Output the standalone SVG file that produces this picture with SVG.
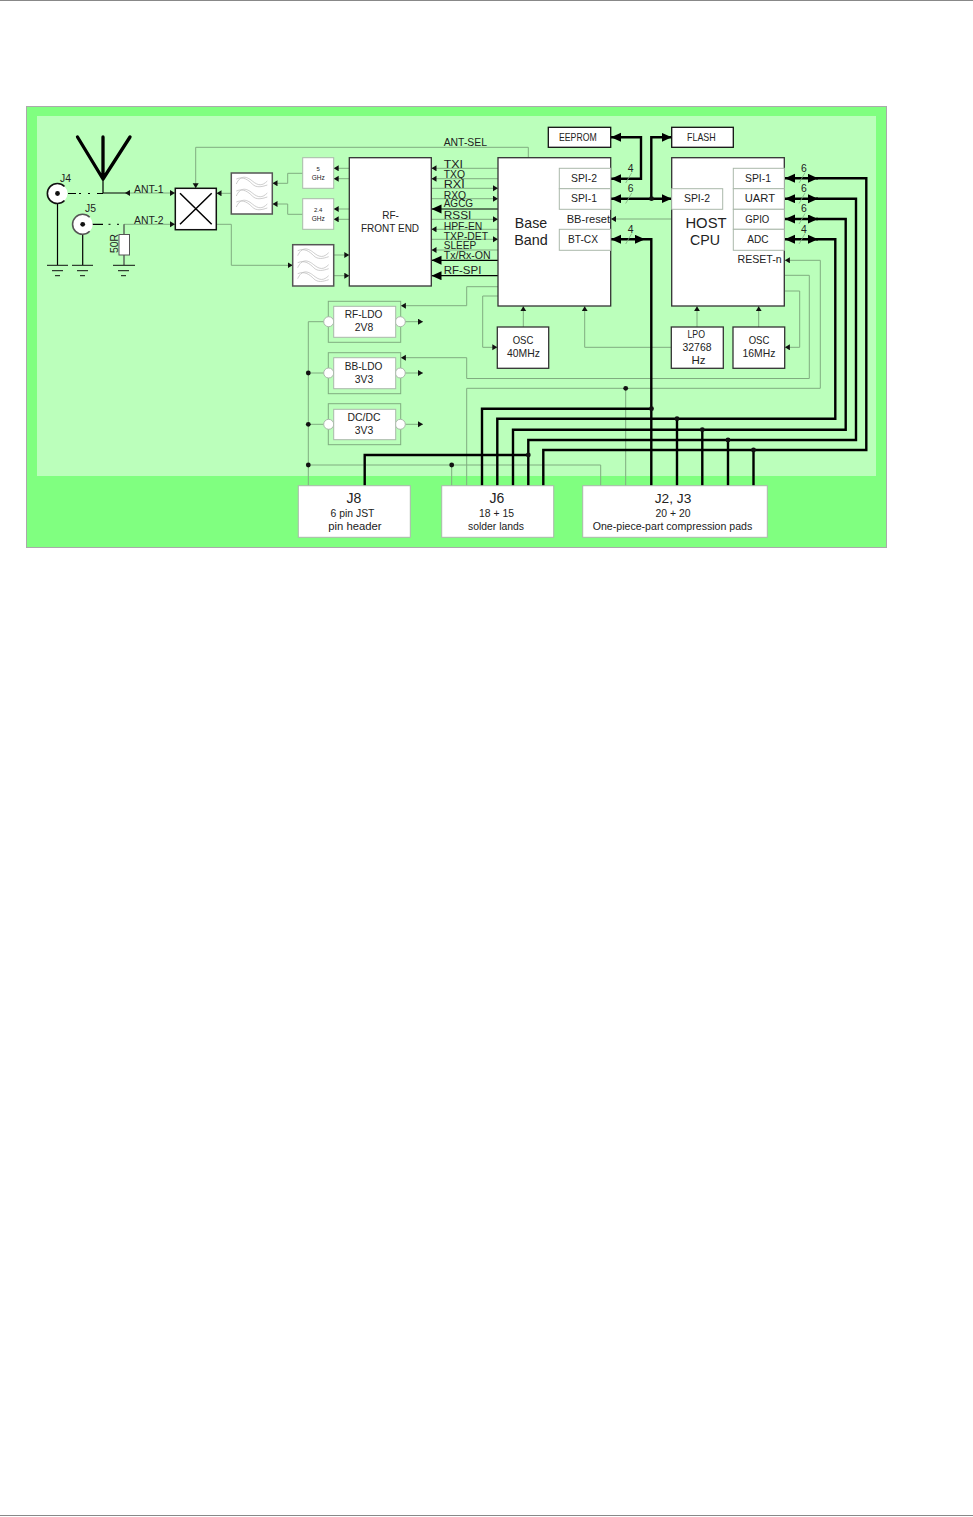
<svg xmlns="http://www.w3.org/2000/svg" width="973" height="1517" viewBox="0 0 973 1517">
<style>
text{font-family:"Liberation Sans",Arial,sans-serif;fill:#222;font-size:10.4px}
.c{text-anchor:middle}
.m{font-size:14px}
.w{fill:#fff;stroke:#333;stroke-width:1.3}
.b{fill:#fff;stroke:#aab8aa;stroke-width:1}
.fb{fill:#fff;stroke:#555;stroke-width:1.5}
.g,.gm{fill:none;stroke:#80ad80;stroke-width:1}
.gm{marker-end:url(#a)}
.k{fill:none;stroke:#000;stroke-width:2.4}
.t{fill:none;stroke:#000;stroke-width:1.2}
.ta{marker-end:url(#A)}
.d{fill:#111}
.wav{fill:none;stroke:#b8b8b8;stroke-width:.7}
.sl{stroke:#80ad80;stroke-width:.8}
</style>
<defs>
<marker id="a" markerUnits="userSpaceOnUse" markerWidth="6" markerHeight="7" refX="5" refY="3" orient="auto-start-reverse"><path d="M0 0L5 3L0 6Z" fill="#111"/></marker>
<marker id="A" markerUnits="userSpaceOnUse" markerWidth="11" markerHeight="10" refX="10" refY="4.5" orient="auto-start-reverse"><path d="M0 0L10 4.5L0 9Z" fill="#000"/></marker>
<g id="wave"><path class="wav" d="M5 11C9 2 15 3 21 8S31 13 36 8M5 6C12 3 17 7 21 11S30 14 36 12"/><path class="wav" d="M5 23C9 14 15 15 21 20S31 25 36 20M5 18C12 15 17 19 21 23S30 26 36 24"/><path class="wav" d="M5 34C9 25 15 26 21 31S31 36 36 31M5 29C12 26 17 30 21 34S30 37 36 35"/></g>
</defs>

<rect width="973" height="1517" fill="#fff"/>
<path d="M0 .5H973M0 1515.5H973" stroke="#888" stroke-width="1"/>
<rect x="26.5" y="106.5" width="860" height="441" fill="#80ff80" stroke="#aaa"/>
<rect x="37" y="116" width="839" height="360" fill="#bbffbb"/>

<g id="connectors">
<path class="gm" d="M528.3 157.5V147.3H195.7V188.3"/>
<path class="gm" d="M231 193.3H216.5"/>
<path class="gm" d="M303 173.3H287.7V183.3H272.5"/>
<path class="gm" d="M303 214.3H287.7V204H272.5"/>
<path class="gm" d="M216 224.3H231.3V265.3H292.7"/>
<path class="gm" d="M333.7 255H349.3"/><path class="gm" d="M333.7 275.7H349.3"/>
<path class="gm" d="M349 168.3H333.7"/><path class="gm" d="M349 178.7H333.7"/>
<path class="gm" d="M349 209H333.7"/><path class="gm" d="M349 219.3H333.7"/>
<path class="gm" d="M127 193H175"/>
<path class="gm" d="M124 224.3H175"/>
<path d="M127 193H103V179" class="t"/>
<path d="M132 193H125" fill="none" marker-end="url(#a)"/>
<path d="M57.5 193.5V265M82.7 224.3V265M82.7 224.3H103" class="t"/>
<path d="M124 224.3V234M124 255V265" stroke="#444" stroke-width="1.2" fill="none"/>
<path d="M68 193.5h8M79 193.5h2M88 193.5h2M97 193.5h6" stroke="#000" stroke-width="1"/>
<path d="M108.5 224.3h2M117 224.3h2" stroke="#000" stroke-width="1"/>
<g fill="none" stroke="#000" stroke-width="3.3" stroke-linecap="round"><path d="M103 137V179M77.5 137L103 179M130 137L103 179"/></g>

<path class="gm" d="M498 168.3H431.5"/><path class="gm" d="M498 178.7H431.5"/>
<path class="gm" d="M431.5 188.3H498"/><path class="gm" d="M431.5 198.7H498"/>
<path class="t ta" d="M498 209H431.5"/>
<path class="gm" d="M431.5 219.3H498"/>
<path class="gm" d="M498 229.3H431.5"/>
<path class="gm" d="M431.5 239.3H498"/>
<path class="gm" d="M498 250H431.5"/>
<path class="t ta" d="M498 260.3H431.5"/>
<path class="t ta" d="M498 275.7H431.5"/>

<path class="gm" d="M498 286.7H466.7V305.7H400.9"/>
<path class="gm" d="M498 296H482.7V347.3H497.3"/>
<path class="gm" d="M523.3 327V306.2"/>
<path class="gm" d="M671.3 347.3H584.7V306.2"/>
<path class="gm" d="M697 327V306.2"/>
<path class="gm" d="M758.7 327V306.2"/>
<path class="gm" d="M784.5 291H799.7V347.3H784.9"/>
<path class="gm" d="M784.5 275.3H809.3V378.5H466.7V357.7H400.9"/>
<path class="gm" d="M466.7 486V388.3H820.3V260.3H784.9"/>
<path class="g" d="M625.7 388.3V486"/>
<path class="gm" d="M671.7 219H611"/>
<path class="g" d="M308.3 486V321.7H324M308.3 373H324M308.3 424.3H324"/>
<path class="g" d="M308.3 465H600.7V486M451.7 465V486"/>
<path class="gm" d="M405 321.7H423"/><path class="gm" d="M405 373H423"/><path class="gm" d="M405 424.3H423"/>

<path class="k" d="M611 137.3H641V178.7H611" marker-start="url(#A)" marker-end="url(#A)"/>
<path class="k" d="M611 198.7H671.7" marker-start="url(#A)" marker-end="url(#A)"/>
<path class="k" d="M651.3 198.7V137.3H671.7" marker-end="url(#A)"/>
<path class="k" d="M611 239.3H645" marker-start="url(#A)" marker-end="url(#A)"/>
<path class="k" d="M645 239.3H651.3V486"/>
<path class="k" d="M785 178.3H818" marker-start="url(#A)" marker-end="url(#A)"/>
<path class="k" d="M785 198.7H818" marker-start="url(#A)" marker-end="url(#A)"/>
<path class="k" d="M785 219H818" marker-start="url(#A)" marker-end="url(#A)"/>
<path class="k" d="M785 239.3H818" marker-start="url(#A)" marker-end="url(#A)"/>
<path class="k" d="M816 178.3H866.3V450H543.3V486"/>
<path class="k" d="M816 198.7H856V440H528.3V486"/>
<path class="k" d="M816 219H845.7V429.7H513V486"/>
<path class="k" d="M816 239.3H835.3V418.7H497.3V486"/>
<path class="k" d="M651.3 408.7H482V486"/>
<path class="k" d="M364.7 486V455H528.3"/>
<path class="k" d="M677 418.7V486M702.3 429.7V486M728 440V486M753.5 450V486"/>
<g class="d"><circle cx="651.5" cy="198.7" r="2.4"/><circle cx="651.5" cy="408.7" r="2.4"/><circle cx="677" cy="418.7" r="2.4"/><circle cx="702.3" cy="429.7" r="2.4"/><circle cx="728" cy="440" r="2.4"/><circle cx="753.5" cy="450" r="2.4"/><circle cx="528.3" cy="455" r="2.4"/><circle cx="625.7" cy="388.3" r="2.4"/><circle cx="308.3" cy="373" r="2.4"/><circle cx="308.3" cy="424.3" r="2.4"/><circle cx="308.3" cy="465" r="2.4"/><circle cx="451.7" cy="465" r="2.4"/></g>
<g class="sl"><path d="M625.7 183L631.7 172.7M625.7 203.5L631.7 193M625.7 244L631.7 233.5M799 183L805 172.7M799 203.5L805 193M799 224L805 213.5M799 244L805 233.5"/></g>
<text class="c" x="630.7" y="171.5">4</text><text class="c" x="630.7" y="192">6</text><text class="c" x="630.7" y="233">4</text>
<text class="c" x="804" y="171.5">6</text><text class="c" x="804" y="192">6</text><text class="c" x="804" y="212">6</text><text class="c" x="804" y="233">4</text>
<text x="443.7" y="146">ANT-SEL</text>
<text x="443.7" y="167.5" textLength="19.3" lengthAdjust="spacingAndGlyphs">TXI</text>
<text x="443.7" y="178">TXQ</text>
<text x="443.7" y="188" textLength="21" lengthAdjust="spacingAndGlyphs">RXI</text>
<text x="443.7" y="198.5">RXQ</text>
<text x="443.7" y="207" style="font-size:10px">AGCG</text>
<text x="443.7" y="219" textLength="27.7" lengthAdjust="spacingAndGlyphs">RSSI</text>
<text x="443.7" y="229.5">HPF-EN</text>
<text x="443.7" y="240">TXP-DET</text>
<text x="443.7" y="249" style="font-size:10.1px">SLEEP</text>
<text x="443.7" y="258.5" style="font-size:10.6px">Tx/Rx-ON</text>
<text x="443.7" y="274" textLength="37.7" lengthAdjust="spacingAndGlyphs">RF-SPI</text>
<text x="134" y="193">ANT-1</text>
<text x="134" y="224">ANT-2</text>
</g>

<g id="J4"><circle cx="57.5" cy="193.5" r="10" fill="#fff"/><path d="M64.5 186.5A10 10 0 1 0 64.5 200.5" fill="none" stroke="#111" stroke-width="1.6"/><circle class="d" cx="57.5" cy="193.5" r="2.4"/><text x="60" y="182">J4</text></g>
<g id="J5"><circle cx="82.7" cy="224.3" r="10" fill="#fff"/><path d="M89.7 217.3A10 10 0 1 0 89.7 231.3" fill="none" stroke="#555" stroke-width="1.6"/><circle class="d" cx="82.7" cy="224.3" r="2.4"/><text x="85" y="212">J5</text></g>
<g id="gnd" fill="none" stroke="#111"><path d="M47 265.3H68M52 270.7H63M55 275.7H60M72 265.3H93M77 270.7H88M80 275.7H85M113 265.3H135M118 270.7H129M121 275.7H126"/></g>
<g id="R50"><rect x="119" y="234.5" width="10.5" height="20.5" fill="#fff" stroke="#555"/><text transform="translate(118 253) rotate(-90)">50R</text></g>
<g id="switch"><rect x="175.3" y="188.3" width="41" height="41.4" class="fb" style="stroke:#111"/><path d="M180 193.3L211.7 224.3M211.7 193.3L180 224.3" stroke="#000" stroke-width="1.5"/></g>
<g id="filter1"><rect x="231.3" y="173" width="41" height="41" class="fb"/><use href="#wave" x="231.3" y="173"/></g>
<g id="filter2"><rect x="292.7" y="244.7" width="41" height="41.3" class="fb"/><use href="#wave" x="292.7" y="244.7"/></g>
<g id="ghz5"><rect x="302.7" y="157.7" width="31" height="30.6" class="b"/><text class="c" x="318.2" y="170.5" style="font-size:6px">5</text><text class="c" x="318.2" y="180" style="font-size:6.5px">GHz</text></g>
<g id="ghz24"><rect x="302.7" y="198.7" width="31" height="30.6" class="b"/><text class="c" x="318.2" y="211.5" style="font-size:6px">2.4</text><text class="c" x="318.2" y="221" style="font-size:6.5px">GHz</text></g>
<g id="rffe"><rect x="349.3" y="157.7" width="82" height="128.3" class="w"/><text class="c" x="390.5" y="219" style="font-size:10px">RF-</text><text class="c" x="390" y="232" style="font-size:10px">FRONT END</text></g>
<g id="baseband"><rect x="498" y="157.7" width="112.7" height="148.3" class="w"/><text class="c" x="531" y="228" style="font-size:14.2px">Base</text><text class="c" x="531" y="245" style="font-size:14.4px">Band</text>
<rect x="559.3" y="168.3" width="51.4" height="20.4" class="b"/><text class="c" x="584" y="182">SPI-2</text>
<rect x="559.3" y="188.7" width="51.4" height="20.6" class="b"/><text class="c" x="584" y="202">SPI-1</text>
<text x="566.7" y="223" textLength="43.3" lengthAdjust="spacingAndGlyphs">BB-reset</text>
<rect x="559.3" y="229.3" width="51.4" height="21" class="b"/><text class="c" x="583" y="243" style="font-size:10.2px">BT-CX</text></g>
<g id="host"><rect x="671.7" y="157.7" width="112.6" height="148.3" class="w"/><text class="c" x="706" y="228" style="font-size:14.8px">HOST</text><text class="c" x="705" y="245" style="font-size:14.2px">CPU</text>
<rect x="671.7" y="188.7" width="51" height="20.6" class="b"/><text class="c" x="697" y="202">SPI-2</text>
<rect x="733.3" y="168.3" width="51" height="20.4" class="b"/><text class="c" x="758" y="182">SPI-1</text>
<rect x="733.3" y="188.7" width="51" height="20.6" class="b"/><text x="744.7" y="202" textLength="30.3" lengthAdjust="spacingAndGlyphs">UART</text>
<rect x="733.3" y="209.3" width="51" height="20" class="b"/><text x="745.3" y="222.5" textLength="24" lengthAdjust="spacingAndGlyphs">GPIO</text>
<rect x="733.3" y="229.3" width="51" height="21" class="b"/><text class="c" x="758" y="243" style="font-size:10.1px">ADC</text>
<text x="737.5" y="263" style="font-size:10.6px">RESET-n</text></g>
<g id="eeprom"><rect x="548.3" y="127.3" width="62.4" height="20" class="w" style="stroke:#111"/><text x="559" y="141" textLength="37.7" lengthAdjust="spacingAndGlyphs">EEPROM</text></g>
<g id="flash"><rect x="671.7" y="127.3" width="61.6" height="20" class="w" style="stroke:#111"/><text x="687" y="141" textLength="28.7" lengthAdjust="spacingAndGlyphs">FLASH</text></g>
<g id="osc40"><rect x="497.3" y="327" width="51.4" height="41.3" class="w"/><text x="512.7" y="344" textLength="20.7" lengthAdjust="spacingAndGlyphs">OSC</text><text class="c" x="523.5" y="357">40MHz</text></g>
<g id="lpo"><rect x="671.3" y="327" width="52" height="41.3" class="w"/><text x="687.5" y="337.5" textLength="17.5" lengthAdjust="spacingAndGlyphs">LPO</text><text class="c" x="697" y="351">32768</text><text class="c" x="698.5" y="364" style="font-size:11.5px">Hz</text></g>
<g id="osc16"><rect x="733" y="327" width="51.7" height="41.3" class="w"/><text x="748.7" y="344" textLength="20.7" lengthAdjust="spacingAndGlyphs">OSC</text><text class="c" x="759" y="357">16MHz</text></g>
<g id="rfldo"><rect x="328.3" y="301.3" width="72.4" height="41" fill="none" stroke="#80ad80"/><circle cx="328.7" cy="321.7" r="5" class="b"/><circle cx="400.3" cy="321.7" r="5" class="b"/><rect x="333.7" y="306.3" width="62" height="31" class="b"/><text class="c" x="363.5" y="318" style="font-size:10.1px">RF-LDO</text><text class="c" x="364" y="331">2V8</text></g>
<g id="bbldo"><rect x="328.3" y="352.7" width="72.4" height="41" fill="none" stroke="#80ad80"/><circle cx="328.7" cy="373" r="5" class="b"/><circle cx="400.3" cy="373" r="5" class="b"/><rect x="333.7" y="357.7" width="62" height="31" class="b"/><text class="c" x="363.5" y="370" style="font-size:10.1px">BB-LDO</text><text class="c" x="364" y="383">3V3</text></g>
<g id="dcdc"><rect x="328.3" y="403.7" width="72.4" height="41" fill="none" stroke="#80ad80"/><circle cx="328.7" cy="424.3" r="5" class="b"/><circle cx="400.3" cy="424.3" r="5" class="b"/><rect x="333.7" y="409.3" width="62" height="30.4" class="b"/><text class="c" x="364" y="421">DC/DC</text><text class="c" x="364" y="434">3V3</text></g>
<g id="j8"><rect x="298.3" y="485.7" width="112" height="51.6" class="b"/><text class="c m" x="354" y="503">J8</text><text class="c" x="352.5" y="516.5">6 pin JST</text><text x="328.3" y="530" textLength="53.3" lengthAdjust="spacingAndGlyphs">pin header</text></g>
<g id="j6"><rect x="441.7" y="485.7" width="112" height="51.6" class="b"/><text class="c m" x="497" y="503">J6</text><text class="c" x="496.5" y="516.5">18 + 15</text><text class="c" x="496" y="530">solder lands</text></g>
<g id="j2j3"><rect x="582.7" y="485.7" width="184.6" height="51.6" class="b"/><text class="c" x="673" y="503" style="font-size:13.7px">J2, J3</text><text class="c" x="673" y="516.5">20 + 20</text><text class="c" x="672.5" y="530" style="font-size:10.6px">One-piece-part compression pads</text></g>
</svg>
